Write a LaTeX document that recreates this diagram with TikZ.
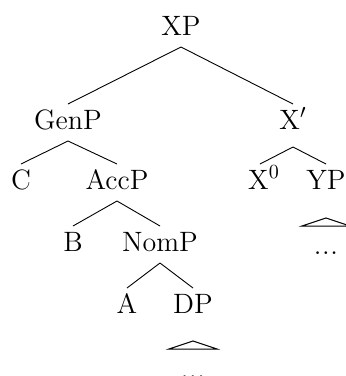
\documentclass[tikz,border=0pt]{standalone}
\usepackage{amsmath}
\usepackage{tikz}

\newcommand{\roofdots}{.\kern0.3pt.\kern0.3pt.}

\begin{document}
\begin{tikzpicture}[
  x=0.5pt, y=-0.5pt,
  every node/.style={font=\fontsize{14}{17}\selectfont},
  cat/.style={inner sep=0pt, anchor=base},
  dots/.style={inner sep=0pt, anchor=center},
  branch/.style={line width=0.45pt},
  roof/.style={line width=0.5pt, line join=miter}
]
\useasboundingbox (0,0) rectangle (345,376);

\node[cat] (xp)    at (181,35)  {XP};
\node[cat] (genp)  at (68,129)  {GenP};
\node[cat] (xbar)  at (293,129) {X$'$};
\node[cat] (c)     at (21,189)  {C};
\node[cat] (accp)  at (117,189) {AccP};
\node[cat] (xzero) at (264,189) {X$^0$};
\node[cat] (yp)    at (326,189) {YP};
\node[cat] (b)     at (73,251)  {B};
\node[cat] (nomp)  at (160,251) {NomP};
\node[cat] (a)     at (127,313) {A};
\node[cat] (dp)    at (193,313) {DP};
\node[dots] (ypdots) at (326,253) {\roofdots};
\node[dots] (dpdots) at (193,377) {\roofdots};

\draw[branch] ([yshift=-6pt]xp.base) -- ([yshift=12.5pt]genp.base);
\draw[branch] ([yshift=-6pt]xp.base) -- ([yshift=12.5pt]xbar.base);
\draw[branch] ([yshift=-6pt]genp.base) -- ([yshift=12.5pt]c.base);
\draw[branch] ([yshift=-6pt]genp.base) -- ([yshift=12.5pt]accp.base);
\draw[branch] ([yshift=-9pt]xbar.base) -- ([xshift=-2pt,yshift=12.5pt]xzero.base);
\draw[branch] ([yshift=-9pt]xbar.base) -- ([yshift=12.5pt]yp.base);
\draw[branch] ([yshift=-6pt]accp.base) -- ([yshift=12.5pt]b.base);
\draw[branch] ([yshift=-6pt]accp.base) -- ([yshift=12.5pt]nomp.base);
\draw[branch] ([yshift=-6pt]nomp.base) -- ([yshift=12.5pt]a.base);
\draw[branch] ([yshift=-6pt]nomp.base) -- ([yshift=12.5pt]dp.base);

\draw[roof] ([yshift=-14.5pt]yp.base) -- ([xshift=-12pt,yshift=-18.5pt]yp.base)
  -- ([xshift=12pt,yshift=-18.5pt]yp.base) -- cycle;
\draw[roof] ([yshift=-14pt]dp.base) -- ([xshift=-12pt,yshift=-18pt]dp.base)
  -- ([xshift=12pt,yshift=-18pt]dp.base) -- cycle;
\end{tikzpicture}
\end{document}
